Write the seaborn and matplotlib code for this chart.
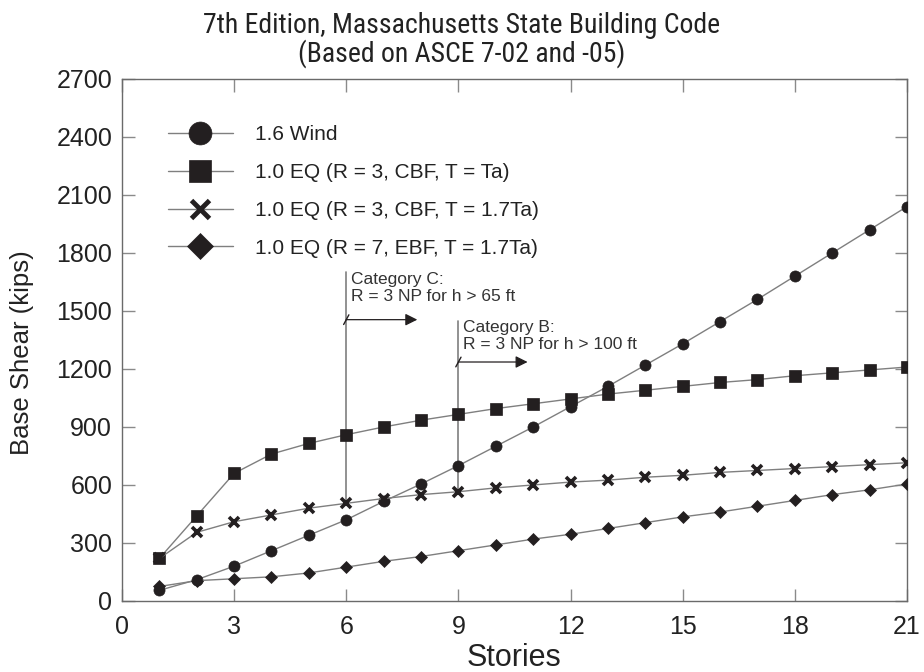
import numpy as np
import pandas as pd
import matplotlib
matplotlib.use("Agg")
import matplotlib.pyplot as plt
from matplotlib import font_manager
from matplotlib.lines import Line2D
import seaborn as sns

# Data
stories = list(range(1, 22))
wind = [55, 110, 180, 260, 340, 420, 515, 605, 700, 800, 900, 1005,
        1110, 1220, 1330, 1445, 1560, 1680, 1800, 1920, 2040]
eq_cbf_ta = [220, 440, 660, 760, 815, 860, 900, 935, 965, 995, 1020, 1045,
             1070, 1090, 1110, 1130, 1145, 1165, 1180, 1195, 1210]
eq_cbf_17ta = [220, 355, 410, 445, 480, 505, 530, 550, 565, 585, 600, 615,
               625, 640, 650, 665, 675, 685, 695, 705, 715]
eq_ebf_17ta = [75, 105, 115, 125, 145, 175, 205, 230, 260, 290, 320, 345,
               375, 405, 435, 460, 490, 520, 550, 575, 605]

series_labels = ["1.6 Wind",
                 "1.0 EQ (R = 3, CBF, T = Ta)",
                 "1.0 EQ (R = 3, CBF, T = 1.7Ta)",
                 "1.0 EQ (R = 7, EBF, T = 1.7Ta)"]
series_values = [wind, eq_cbf_ta, eq_cbf_17ta, eq_ebf_17ta]
series_markers = ["o", "s", "x", "D"]
series_msize = [8, 8, 7, 6.5]
legend_msize = [16.5, 16, 13, 13]

x_ticks = list(range(0, 22, 3))
y_ticks = list(range(0, 2701, 300))

# Category annotations: (story, line bottom, line top, arrow y, arrow end, text)
cat_story = [6, 9]
cat_line_bottom = [505, 565]
cat_line_top = [1700, 1450]
cat_arrow_y = [1455, 1236]
cat_arrow_end = [7.9, 10.85]
cat_text = ["Category C:\nR = 3 NP for h > 65 ft",
            "Category B:\nR = 3 NP for h > 100 ft"]

sns.set_style("ticks")
plt.rcParams["font.family"] = ["Liberation Sans", "DejaVu Sans"]

# narrow face for the title if one is installed
installed = {f.name for f in font_manager.fontManager.ttflist}
title_family = ["Liberation Sans"]
for cand in ["Liberation Sans Narrow", "Arial Narrow", "Roboto Condensed"]:
    if cand in installed:
        title_family = [cand]
        break
title_size = 19 if title_family[0] == "Liberation Sans" else 20

line_gray = "#7f7f7f"
mark_black = "#231f20"
spine_gray = "#6a6a6a"
text_col = "#222222"

fig = plt.figure(figsize=(9.24, 6.72), dpi=100)
ax = fig.add_axes([0.132, 0.1057, 0.8496, 0.7768])

for label, vals, mk, ms in zip(series_labels, series_values, series_markers, series_msize):
    df = pd.DataFrame({"Stories": stories, "Base Shear": vals})
    sns.lineplot(data=df, x="Stories", y="Base Shear", ax=ax, color=line_gray,
                 linewidth=1.0, marker=mk, markersize=ms,
                 markerfacecolor=mark_black, markeredgecolor=mark_black,
                 markeredgewidth=2.6 if mk == "x" else 0.5,
                 label=label, legend=False, zorder=3)

# Category lines, arrows and notes
for s, yb, yt, ya, xe, txt in zip(cat_story, cat_line_bottom, cat_line_top,
                                  cat_arrow_y, cat_arrow_end, cat_text):
    ax.plot([s, s], [yb, yt], color=line_gray, lw=1.2, zorder=2)
    ax.annotate("", xy=(xe, ya), xytext=(s, ya),
                arrowprops=dict(arrowstyle="-|>", color=mark_black, lw=0.9,
                                mutation_scale=18, shrinkA=0, shrinkB=0))
    ax.plot([s - 0.07, s + 0.07], [ya - 25, ya + 25], color=mark_black, lw=1.0)
    ax.text(s + 0.12, yt + 2, txt, fontsize=12.5, va="top", ha="left",
            color="#333333", linespacing=1.15)

ax.set_xlim(0, 21)
ax.set_ylim(0, 2700)
ax.set_xticks(x_ticks)
ax.set_yticks(y_ticks)
ax.tick_params(axis="both", direction="in", length=9, width=1, color="#8a8a8a",
               labelsize=18, labelcolor=text_col, top=True, right=True)
ax.tick_params(axis="x", pad=10)
ax.tick_params(axis="y", pad=7)
for sp in ax.spines.values():
    sp.set_visible(True)
    sp.set_color(spine_gray)
    sp.set_linewidth(1.0)

ax.set_xlabel("Stories", fontsize=22, color=text_col, labelpad=3)
ax.set_ylabel("Base Shear (kips)", fontsize=18.5, color=text_col, labelpad=8)
ax.yaxis.set_label_coords(-0.112, 0.475)

handles = [Line2D([0], [0], color=line_gray, lw=1.0, marker=mk, markersize=ms,
                  markerfacecolor=mark_black, markeredgecolor=mark_black,
                  markeredgewidth=3.5 if mk == "x" else 0.5)
           for mk, ms in zip(series_markers, legend_msize)]
ax.legend(handles, series_labels, loc="upper left", bbox_to_anchor=(0.035, 0.947),
          frameon=False, fontsize=15, handlelength=3.1, handletextpad=1.05,
          labelspacing=0.9, labelcolor=text_col)

fig.text(0.5, 0.982, "7th Edition, Massachusetts State Building Code\n(Based on ASCE 7-02 and -05)",
         ha="center", va="top", fontsize=title_size, linespacing=1.0, color=text_col,
         family=title_family + ["DejaVu Sans"])

fig.savefig("out.png", dpi=100)
